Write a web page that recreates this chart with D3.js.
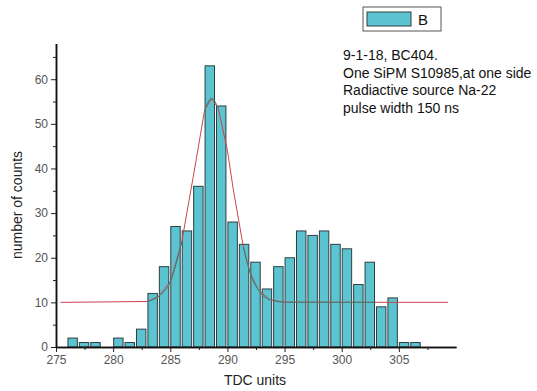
<!DOCTYPE html>
<html>
<head>
<meta charset="utf-8">
<script src="https://cdn.jsdelivr.net/npm/d3@7"></script>
<style>
  body { margin: 0; background: #fff; }
  text { font-family: "Liberation Sans", Arial, sans-serif; }
</style>
</head>
<body>
<div id="chart"></div>
<script>
// histogram bins (left edge, TDC units) and counts
var bins = [276,277,278,279,280,281,282,283,284,285,286,287,288,289,290,291,292,293,294,295,296,297,298,299,300,301,302,303,304,305,306];
var counts = [2,1,1,0,2,1,4,12,18,27,26,36,63,54,28,23,19,13,18,20,26,25,26,23,22,14,19,9,11,1,1];

// fit curve
var fitX = [275.4,283.0,284.0,285.0,286.0,287.0,288.0,288.6,289.2,290.0,290.5,291.4,292.0,292.7,293.7,295.0,303.0,309.3];
var fitY = [10,10.2,11.4,14.6,23.5,38,53,55.7,53.5,44,35.5,22.3,16.5,12.8,10.6,10.05,10,10];

var xTicks = [275,280,285,290,295,300,305];
var xMinor = [277.5,282.5,287.5,292.5,297.5,302.5,307.5];
var yTicks = [0,10,20,30,40,50,60];
var yMinor = [5,15,25,35,45,55,65];

var notes = ["9-1-18, BC404.", "One SiPM S10985,at one side", "Radiactive source Na-22", "pulse width 150 ns"];

var width = 537, height = 391;
var svg = d3.select("#chart").append("svg")
	.attr("width", width)
	.attr("height", height);

var x = d3.scaleLinear().domain([275, 310]).range([56, 456]);
var y = d3.scaleLinear().domain([0, 68]).range([347, 43.5]);

var barFill = "#5cc3d1";

// bars
svg.append("g").selectAll("rect")
	.data(bins.map(function (b, i) { return {b: b, c: counts[i]}; }).filter(function (d) { return d.c > 0; }))
	.enter().append("rect")
	.attr("x", function (d) { return x(d.b) + 0.5; })
	.attr("y", function (d) { return y(d.c); })
	.attr("width", x(1) - x(0) - 2)
	.attr("height", function (d) { return y(0) - y(d.c); })
	.attr("fill", barFill)
	.attr("stroke", "#2f3f42")
	.attr("stroke-width", 1);

// fit line: red polyline with darker smooth segments on top
var fit = fitX.map(function (v, i) { return [v, fitY[i]]; });
var line = d3.line().x(function (d) { return x(d[0]); }).y(function (d) { return y(d[1]); });
svg.append("path")
	.attr("d", line(fit))
	.attr("fill", "none")
	.attr("stroke", "#c8464a")
	.attr("stroke-width", 1);

var smooth = d3.line().curve(d3.curveMonotoneX)
	.x(function (d) { return x(d[0]); }).y(function (d) { return y(d[1]); });
[[283, 286], [288, 289.2], [291.4, 303]].forEach(function (r) {
	svg.append("path")
		.attr("d", smooth(fit.filter(function (d) { return d[0] >= r[0] && d[0] <= r[1]; })))
		.attr("fill", "none")
		.attr("stroke", "#3f7f74")
		.attr("stroke-width", 1);
});

// axes
var xAxis = svg.append("g").attr("transform", "translate(0," + y(0) + ")")
	.call(d3.axisBottom(x).tickValues(xTicks).tickSize(5).tickPadding(3).tickSizeOuter(0));
svg.append("g").attr("transform", "translate(0," + y(0) + ")")
	.call(d3.axisBottom(x).tickValues(xMinor).tickSize(3).tickFormat("").tickSizeOuter(0));
var yAxis = svg.append("g").attr("transform", "translate(" + x(275) + ",0)")
	.call(d3.axisLeft(y).tickValues(yTicks).tickSize(5).tickPadding(3).tickSizeOuter(0));
svg.append("g").attr("transform", "translate(" + x(275) + ",0)")
	.call(d3.axisLeft(y).tickValues(yMinor).tickSize(3).tickFormat("").tickSizeOuter(0));

svg.selectAll(".domain").attr("stroke", "#111").attr("stroke-width", 1.5);
svg.selectAll(".tick line").attr("stroke", "#222");
svg.selectAll(".tick text")
	.attr("fill", "#555")
	.style("font-size", "12px")
	.style("font-family", "'Liberation Sans', Arial, sans-serif");

// axis titles
svg.append("text")
	.attr("x", 255).attr("y", 385)
	.attr("text-anchor", "middle")
	.style("font-size", "14px")
	.attr("fill", "#222")
	.text("TDC units");
svg.append("text")
	.attr("transform", "translate(22,205) rotate(-90)")
	.attr("text-anchor", "middle")
	.style("font-size", "14px")
	.attr("fill", "#222")
	.text("number of counts");

// legend
var leg = svg.append("g").attr("transform", "translate(363,7)");
leg.append("rect").attr("width", 78).attr("height", 24)
	.attr("fill", "#fff").attr("stroke", "#555");
leg.append("rect").attr("x", 4).attr("y", 5).attr("width", 44).attr("height", 14)
	.attr("fill", barFill).attr("stroke", "#2f3f42");
leg.append("text").attr("x", 55).attr("y", 18)
	.style("font-size", "15px").attr("fill", "#111").text("B");

// notes
svg.append("g").selectAll("text")
	.data(notes)
	.enter().append("text")
	.attr("x", 343)
	.attr("y", function (d, i) { return 60 + i * 17.6; })
	.style("font-size", "14px")
	.attr("fill", "#111")
	.text(function (d) { return d; });
</script>
</body>
</html>
